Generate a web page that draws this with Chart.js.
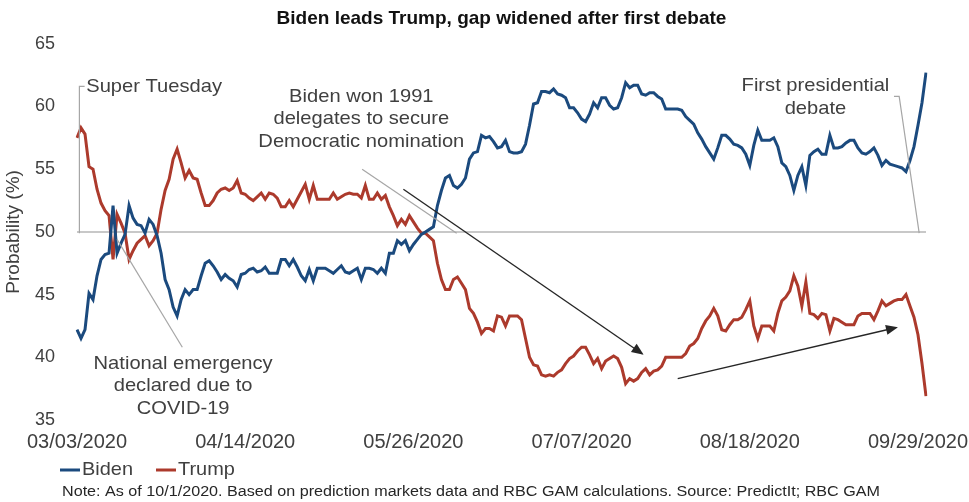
<!DOCTYPE html>
<html>
<head>
<meta charset="utf-8">
<script src="https://cdn.jsdelivr.net/npm/chart.js@4.4.1/dist/chart.umd.min.js"></script>
<style>
  body { margin: 0; background: #fff; }
  #wrap { width: 969px; height: 502px; }
</style>
</head>
<body>
<div id="wrap"><canvas id="probChart" width="969" height="502"></canvas></div>
<script>
// daily values from 03/03/2020 to 10/01/2020
var startDate = new Date(2020, 2, 3);
var tickLabels = ['03/03/2020', '04/14/2020', '05/26/2020', '07/07/2020', '08/18/2020', '09/29/2020'];
var yTicks = [35, 40, 45, 50, 55, 60, 65];

var biden = [
  42.2, 41.5, 42.2, 45.1, 44.6, 46.5, 47.8, 48.2, 48.3, 52.1,
  48.3, 49.1, 49.8, 52.1, 51.1, 50.6, 50.5, 49.9, 51.0, 50.6,
  49.7, 48.3, 46.2, 45.4, 44.0, 43.3, 44.6, 45.4, 45.0, 45.4,
  45.4, 46.5, 47.5, 47.7, 47.3, 46.8, 46.2, 46.6, 46.3, 46.1,
  45.6, 46.6, 46.7, 47.0, 47.1, 46.8, 46.9, 47.2, 46.7, 46.7,
  46.7, 47.8, 47.8, 47.3, 47.8, 47.2, 46.5, 46.1, 47.0, 46.1,
  47.1, 47.1, 47.1, 46.9, 46.7, 47.0, 47.3, 46.8, 46.7, 46.9,
  47.1, 46.2, 47.1, 47.1, 47.0, 46.7, 47.1, 46.7, 48.3, 48.3,
  49.3, 49.0, 49.3, 48.5, 49.0, 49.4, 49.8, 50.0, 50.2, 50.4,
  52.1, 53.3, 54.3, 54.5, 53.7, 53.5, 53.8, 54.3, 55.8, 56.3,
  56.4, 57.7, 57.5, 57.6, 57.2, 56.7, 56.8, 57.3, 56.4, 56.3,
  56.3, 56.4, 57.0, 58.5, 60.2, 60.3, 61.2, 61.2, 61.1, 61.4,
  61.0, 60.9, 60.7, 59.9, 59.9, 59.5, 59.0, 58.8, 59.4, 60.3,
  59.9, 60.7, 60.7, 60.1, 59.8, 59.9, 60.7, 61.9, 61.5, 61.7,
  61.7, 61.0, 60.9, 61.1, 61.1, 60.8, 60.6, 59.8, 59.8, 59.8,
  59.8, 59.7, 59.2, 58.9, 58.6, 57.9, 57.4, 56.8, 56.3, 55.8,
  56.7, 57.7, 57.7, 57.4, 57.0, 56.9, 56.7, 56.2, 55.3, 56.9,
  58.1, 57.3, 57.3, 57.3, 57.5, 56.8, 55.5, 55.2, 54.5, 53.3,
  54.5, 55.2, 53.7, 56.1, 56.4, 56.6, 56.2, 56.2, 57.7, 56.7,
  56.7, 56.8, 57.1, 57.3, 57.3, 56.7, 56.3, 56.2, 56.4, 56.7,
  56.1, 55.3, 55.7, 55.4, 55.3, 55.2, 55.1, 54.8, 55.7, 56.8,
  58.5, 60.3, 62.7
];

var trump = [
  57.5, 58.3, 57.8, 55.2, 55.0, 53.4, 52.3, 51.7, 51.3, 47.8,
  51.4, 50.7, 49.9, 47.8, 48.5, 49.1, 49.4, 49.7, 48.9, 49.3,
  49.9, 51.8, 53.3, 54.2, 55.8, 56.6, 55.5, 54.3, 54.9, 54.3,
  54.2, 53.1, 52.1, 52.1, 52.5, 53.1, 53.4, 53.5, 53.3, 53.5,
  54.1, 53.1, 53.0, 52.7, 52.5, 52.8, 53.1, 52.6, 53.1, 53.0,
  52.7, 52.0, 52.0, 52.5, 52.0, 52.6, 53.2, 53.8, 52.6, 53.7,
  52.6, 52.6, 52.6, 52.6, 53.1, 52.6, 52.8, 53.0, 53.1, 53.0,
  53.0, 52.7, 53.7, 52.6, 52.6, 53.1, 52.6, 52.9, 52.0, 51.3,
  50.5, 51.0, 50.6, 51.3, 50.8, 50.3, 49.9, 49.9, 49.6, 49.3,
  47.5, 46.2, 45.4, 45.4, 46.2, 46.4, 45.9, 45.4, 43.9, 43.5,
  42.8, 41.9, 42.3, 42.3, 42.1, 43.3, 43.2, 42.5, 43.3, 43.3,
  43.3, 43.0, 41.5, 40.0, 39.4, 39.3, 38.6, 38.5, 38.6, 38.5,
  38.8, 39.0, 39.5, 39.9, 40.1, 40.5, 40.8, 40.8, 40.2, 39.5,
  39.9, 39.1, 39.7, 39.9, 40.1, 39.9, 39.2, 37.9, 38.3, 38.1,
  38.3, 38.8, 39.1, 38.6, 38.9, 39.0, 39.3, 40.0, 40.0, 40.0,
  40.0, 40.0, 40.3, 40.9, 41.1, 41.5, 42.3, 42.9, 43.3, 43.9,
  43.3, 42.2, 42.1, 42.6, 43.0, 43.0, 43.2, 43.8, 44.5, 42.5,
  41.5, 42.5, 42.5, 42.5, 42.1, 43.5, 44.5, 44.8, 45.3, 46.5,
  45.7, 44.1, 46.0, 43.5, 43.4, 43.1, 43.5, 43.4, 42.1, 43.1,
  43.0, 42.8, 42.6, 42.6, 42.6, 43.3, 43.5, 43.5, 43.5, 43.0,
  43.7, 44.5, 44.1, 44.3, 44.5, 44.6, 44.6, 45.0, 44.1, 43.2,
  41.8, 39.5, 36.9
];

var noteText = 'Note: As of 10/1/2020. Based on prediction markets data and RBC GAM calculations. Source: PredictIt; RBC GAM';

function pad2(n) { return (n < 10 ? '0' : '') + n; }
var dates = biden.map(function (v, i) {
  var d = new Date(startDate.getFullYear(), startDate.getMonth(), startDate.getDate() + i);
  return pad2(d.getMonth() + 1) + '/' + pad2(d.getDate()) + '/' + d.getFullYear();
});

var FONT = "'Liberation Sans', Arial, sans-serif";
var TEXT = '#404040';

// callouts, anchored in data units (day index, probability)
var annotations = {
  texts: [
    { lines: ['Super Tuesday'], day: 2.3, val: 61.6, align: 'left' },
    { lines: ['National emergency', 'declared due to', 'COVID-19'], day: 26.5, val: 39.5, align: 'center' },
    { lines: ['Biden won 1991', 'delegates to secure', 'Democratic nomination'], day: 71, val: 60.8, align: 'center' },
    { lines: ['First presidential', 'debate'], day: 184.4, val: 61.65, align: 'center' }
  ],
  leaders: [
    [[1.9, 61.6], [0.6, 61.6], [0.6, 49.9]],
    [[10, 49.4], [26.3, 40.8]],
    [[71.2, 55.0], [94.8, 49.9]],
    [[204, 60.8], [205.3, 60.8], [210.3, 49.9]]
  ],
  arrows: [
    [[81.5, 53.4], [141.5, 40.2]],
    [[150, 38.3], [205, 42.4]]
  ]
};

// draws text squeezed/stretched to a given width, the way the source renders it
function wideText(ctx, str, x, y, sx) {
  ctx.save();
  ctx.translate(x, y);
  ctx.scale(sx, 1);
  ctx.fillText(str, 0, 0);
  ctx.restore();
}

var calloutPlugin = {
  id: 'callouts',
  afterDatasetsDraw: function (chart) {
    var ctx = chart.ctx, xs = chart.scales.x, ys = chart.scales.y;
    function px(d) { return xs.getPixelForValue(0) + d * (xs.getPixelForValue(1) - xs.getPixelForValue(0)); }
    function py(v) { return ys.getPixelForValue(v); }
    ctx.save();
    ctx.strokeStyle = '#a6a6a6';
    ctx.lineWidth = 1.2;
    annotations.leaders.forEach(function (pts) {
      ctx.beginPath();
      pts.forEach(function (p, i) {
        if (i === 0) ctx.moveTo(px(p[0]), py(p[1])); else ctx.lineTo(px(p[0]), py(p[1]));
      });
      ctx.stroke();
    });
    ctx.strokeStyle = '#262626';
    ctx.fillStyle = '#262626';
    ctx.lineWidth = 1.4;
    annotations.arrows.forEach(function (a) {
      var x1 = px(a[0][0]), y1 = py(a[0][1]), x2 = px(a[1][0]), y2 = py(a[1][1]);
      var ang = Math.atan2(y2 - y1, x2 - x1);
      ctx.beginPath();
      ctx.moveTo(x1, y1);
      ctx.lineTo(x2 - 8 * Math.cos(ang), y2 - 8 * Math.sin(ang));
      ctx.stroke();
      ctx.beginPath();
      ctx.moveTo(x2, y2);
      ctx.lineTo(x2 - 12 * Math.cos(ang) + 5 * Math.sin(ang), y2 - 12 * Math.sin(ang) - 5 * Math.cos(ang));
      ctx.lineTo(x2 - 12 * Math.cos(ang) - 5 * Math.sin(ang), y2 - 12 * Math.sin(ang) + 5 * Math.cos(ang));
      ctx.closePath();
      ctx.fill();
    });
    ctx.fillStyle = TEXT;
    ctx.font = '19px ' + FONT;
    ctx.textBaseline = 'middle';
    annotations.texts.forEach(function (t) {
      ctx.textAlign = t.align;
      t.lines.forEach(function (line, i) {
        wideText(ctx, line, px(t.day), py(t.val) + i * 22.5, 1.06);
      });
    });

    // legend
    ctx.font = '19px ' + FONT;
    ctx.textAlign = 'left';
    var lx = 60, ly = 470;
    chart.data.datasets.forEach(function (ds) {
      ctx.strokeStyle = ds.borderColor;
      ctx.lineWidth = 3;
      ctx.beginPath();
      ctx.moveTo(lx, ly);
      ctx.lineTo(lx + 20, ly);
      ctx.stroke();
      ctx.fillStyle = TEXT;
      wideText(ctx, ds.label, lx + 22, ly, 1.05);
      lx += 22 + ctx.measureText(ds.label).width * 1.05 + 23;
    });

    // note
    ctx.font = '14px ' + FONT;
    ctx.fillStyle = '#262626';
    wideText(ctx, noteText, 62, 492, 818 / ctx.measureText(noteText).width);
    ctx.restore();
  }
};

var ctx = document.getElementById('probChart').getContext('2d');
var probChart = new Chart(ctx, {
  type: 'line',
  data: {
    labels: dates,
    datasets: [{
      label: 'Biden',
      data: biden,
      borderColor: '#1b4a7e',
      borderWidth: 3,
      pointRadius: 0,
      tension: 0
    }, {
      label: 'Trump',
      data: trump,
      borderColor: '#ac3a2c',
      borderWidth: 3,
      pointRadius: 0,
      tension: 0
    }]
  },
  options: {
    responsive: false,
    animation: false,
    devicePixelRatio: 1,
    layout: {
      padding: { left: 0, right: 43, top: 0, bottom: 50 }
    },
    scales: {
      x: {
        grid: { display: false },
        border: { display: false },
        ticks: {
          autoSkip: false,
          maxRotation: 0,
          minRotation: 0,
          padding: 2,
          color: TEXT,
          font: { family: FONT, size: 20 },
          callback: function (val, i) {
            var lab = dates[i];
            return tickLabels.indexOf(lab) >= 0 ? lab : '';
          }
        },
        afterFit: function (scale) { scale.height = 32; }
      },
      y: {
        min: 35,
        max: 65,
        afterBuildTicks: function (scale) {
          scale.ticks = yTicks.map(function (v) { return { value: v }; });
        },
        grid: {
          drawTicks: false,
          lineWidth: 2,
          color: function (c) { return c.tick && c.tick.value === 50 ? '#c8c8c8' : 'rgba(0,0,0,0)'; }
        },
        border: { display: false },
        ticks: {
          padding: 22,
          color: TEXT,
          font: { family: FONT, size: 18 }
        },
        title: {
          display: true,
          text: 'Probability (%)',
          color: TEXT,
          font: { family: FONT, size: 19 },
          padding: { top: 2, bottom: 0 }
        },
        afterFit: function (scale) { scale.width = 77; }
      }
    },
    plugins: {
      legend: { display: false },
      tooltip: { enabled: false },
      title: {
        display: true,
        fullSize: false,
        text: 'Biden leads Trump, gap widened after first debate',
        color: '#111111',
        font: { family: FONT, size: 19, weight: 'bold' },
        padding: { top: 7, bottom: 14 }
      }
    }
  },
  plugins: [calloutPlugin]
});
</script>
</body>
</html>
